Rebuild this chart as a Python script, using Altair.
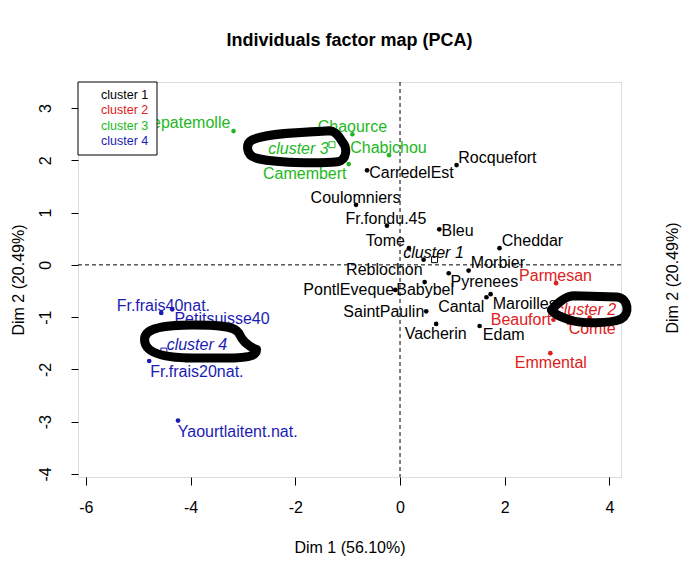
import altair as alt
import pandas as pd

F = "Liberation Sans"

# ---- data ----
names = ["CarredelEst", "Rocquefort", "Coulomniers", "Fr.fondu.45", "Bleu", "Tome",
         "Cheddar", "Reblochon", "Morbier", "Pyrenees", "Babybel", "PontlEveque",
         "SaintPaulin", "Cantal", "Maroilles", "Vacherin", "Edam",
         "Parmesan", "Beaufort", "Comte", "Emmental",
         "Fr.chevrepatemolle", "Chaource", "Chabichou", "Camembert",
         "Fr.frais40nat.", "Petitsuisse40", "Fr.frais20nat.", "Yaourtlaitent.nat."]
cluster = (["cluster 1"] * 17 + ["cluster 2"] * 4 + ["cluster 3"] * 4 + ["cluster 4"] * 4)
dim1 = [-0.63, 1.08, -0.84, -0.25, 0.75, 0.17, 1.90, 0.45, 1.31, 0.93, 0.47, -0.09,
        0.50, 1.65, 1.73, 0.69, 1.52,
        2.98, 2.93, 3.62, 2.87,
        -3.18, -0.91, -0.21, -0.98,
        -4.56, -4.35, -4.79, -4.24]
dim2 = [1.81, 1.91, 1.15, 0.75, 0.68, 0.32, 0.32, 0.10, -0.11, -0.16, -0.33, -0.48,
        -0.89, -0.62, -0.56, -1.13, -1.17,
        -0.35, -1.05, -1.01, -1.69,
        2.56, 2.50, 2.10, 1.93,
        -0.92, -0.85, -1.84, -2.98]
label_x = [0.22, 1.86, -0.85, -0.27, 1.10, -0.28, 2.53, -0.30, 1.87, 1.61, 0.48, -0.98,
           -0.31, 1.17, 2.38, 0.68, 1.98,
           2.97, 2.31, 3.67, 2.88,
           -4.54, -0.91, -0.22, -1.82,
           -4.52, -3.40, -3.88, -3.10]
label_y = [1.76, 2.04, 1.28, 0.88, 0.65, 0.46, 0.46, -0.10, 0.04, -0.33, -0.48, -0.48,
           -0.91, -0.80, -0.75, -1.32, -1.34,
           -0.21, -1.05, -1.23, -1.87,
           2.72, 2.64, 2.24, 1.74,
           -0.78, -1.03, -2.05, -3.19]

cluster_names = ["cluster 1", "cluster 2", "cluster 3", "cluster 4"]
cluster_colors = ["#000000", "#DF2020", "#22B822", "#1C1CB4"]
center_x = [0.66, 3.25, -1.30, -4.51]
center_y = [0.10, -1.08, 2.30, -1.65]
clabel_x = [0.64, 3.55, -1.94, -3.88]
clabel_y = [0.23, -0.87, 2.22, -1.53]

x_ticks = [-6, -4, -2, 0, 2, 4]
y_ticks = [-4, -3, -2, -1, 0, 1, 2, 3]
zero_line = [0]

# hand-drawn circles round the cluster labels (centres in data units)
scribble_x = [-1.96, 3.62, -3.81]
scribble_y = [2.24, -0.86, -1.47]

df = pd.DataFrame(dict(name=names, cluster=cluster, dim1=dim1, dim2=dim2,
                       lx=label_x, ly=label_y))
cdf = pd.DataFrame(dict(cluster=cluster_names, cx=center_x, cy=center_y,
                        lx=clabel_x, ly=clabel_y))

W, H = 543, 395
xs = alt.Scale(domain=[-6.15, 4.22], nice=False, zero=False)
ys = alt.Scale(domain=[-4.06, 3.50], nice=False, zero=False)

lab_expr = "datum.value < 0 ? '-' + abs(datum.value) : '' + datum.value"
xaxis = alt.Axis(values=x_ticks, title="Dim 1 (56.10%)", grid=False, domain=False,
                 tickColor="black", tickSize=8, labelColor="black", labelFontSize=16,
                 labelFont=F, labelPadding=22, labelBaseline="middle", labelFlush=False,
                 labelOverlap=False, labelExpr=lab_expr,
                 titleFont=F, titleFontSize=16, titleFontWeight="normal", titleColor="black",
                 titleY=70, titleBaseline="middle")
yaxis = alt.Axis(values=y_ticks, title="Dim 2 (20.49%)", grid=False, domain=False,
                 tickColor="black", tickSize=7, labelColor="black", labelFontSize=16,
                 labelFont=F, labelPadding=26, labelAngle=270, labelAlign="center",
                 labelBaseline="middle", labelFlush=False, labelOverlap=False,
                 labelExpr=lab_expr,
                 titleFont=F, titleFontSize=16, titleFontWeight="normal", titleColor="black",
                 titleX=-60, titleAngle=270, titleAlign="center", titleBaseline="middle")


def X(f):
    return alt.X(f, type="quantitative", scale=xs, axis=xaxis)


def Y(f):
    return alt.Y(f, type="quantitative", scale=ys, axis=yaxis)


color = alt.Color("cluster:N", scale=alt.Scale(domain=cluster_names, range=cluster_colors),
                  legend=None)

vline = alt.Chart(pd.DataFrame({"v": zero_line})).mark_rule(
    color="black", strokeDash=[4, 3], strokeWidth=1).encode(x=X("v"))
hline = alt.Chart(pd.DataFrame({"v": zero_line})).mark_rule(
    color="black", strokeDash=[4, 3], strokeWidth=1).encode(y=Y("v"))

pts = alt.Chart(df).mark_circle(size=22, opacity=1).encode(
    x=X("dim1"), y=Y("dim2"), color=color)
labels = alt.Chart(df).mark_text(font=F, fontSize=16, align="center", baseline="middle").encode(
    x=X("lx"), y=Y("ly"), text="name:N", color=color)
centers = alt.Chart(cdf).mark_point(shape="square", size=36, filled=False, strokeWidth=1,
                                    opacity=1).encode(x=X("cx"), y=Y("cy"), color=color)
clabels = alt.Chart(cdf).mark_text(font=F, fontSize=16, fontStyle="italic", align="center",
                                   baseline="middle").encode(
    x=X("lx"), y=Y("ly"), text="cluster:N", color=color)

paths = [
    "M0.64,-0.34 C0.2,-0.32 -0.6,-0.3 -0.9,-0.16 C-1.05,-0.08 -1.02,0.14 -0.84,0.2 "
    "C-0.5,0.3 0.4,0.32 0.8,0.28 C1.0,0.24 1.0,0.0 0.9,-0.12 C0.84,-0.22 0.76,-0.34 0.64,-0.34 Z",
    "M-0.98,0 C-0.8,-0.2 -0.6,-0.36 -0.4,-0.36 L0.7,-0.33 C1.0,-0.3 1.05,0.1 0.8,0.24 "
    "C0.5,0.36 -0.2,0.36 -0.5,0.26 C-0.75,0.18 -0.95,0.08 -0.98,0 Z",
    "M-1,-0.04 C-1,-0.2 -0.8,-0.3 -0.14,-0.3 C0.3,-0.3 0.6,-0.28 0.68,-0.16 "
    "C0.74,-0.04 0.8,0.06 1.0,0.14 C1.0,0.24 0.9,0.28 0.6,0.29 L-0.14,0.29 "
    "C-0.6,0.29 -1,0.22 -1,-0.04 Z",
]
sizes = [10000, 6084, 12544]
scribbles = []
for i in range(3):
    scribbles.append(
        alt.Chart(pd.DataFrame({"sx": [scribble_x[i]], "sy": [scribble_y[i]]})).mark_point(
            shape=paths[i], size=sizes[i], filled=False, stroke="black", strokeWidth=9,
            strokeJoin="round", opacity=1).encode(x=X("sx"), y=Y("sy")))

one = pd.DataFrame({"a": [0]})
legend_box = alt.Chart(one).mark_rect(fill="white", stroke="black", strokeWidth=1).encode(
    x=alt.value(0), x2=alt.value(79), y=alt.value(0), y2=alt.value(73))
legend_txt = []
for i, (n, c) in enumerate(zip(cluster_names, cluster_colors)):
    legend_txt.append(alt.Chart(one).mark_text(
        font=F, fontSize=12.5, align="left", baseline="middle", color=c, text=n).encode(
        x=alt.value(23), y=alt.value(13 + 15.4 * i)))

right_title = alt.Chart(one).mark_text(
    font=F, fontSize=16, angle=270, align="center", baseline="middle", color="black",
    text="Dim 2 (20.49%)").encode(x=alt.value(595), y=alt.value(196))

chart = alt.layer(vline, hline, pts, labels, centers, clabels, *scribbles, legend_box,
                  *legend_txt, right_title).properties(
    width=W, height=H,
    title=alt.TitleParams("Individuals factor map (PCA)", font=F, fontSize=18,
                          fontWeight="bold", anchor="middle", offset=32, color="black"),
    padding={"left": 70, "top": 74, "right": 65, "bottom": 90},
    autosize=alt.AutoSizeParams(type="none"),
).configure_view(stroke="black", strokeWidth=1).configure(font=F)

chart.save("out.html", embed_options={"renderer": "svg", "actions": False})
